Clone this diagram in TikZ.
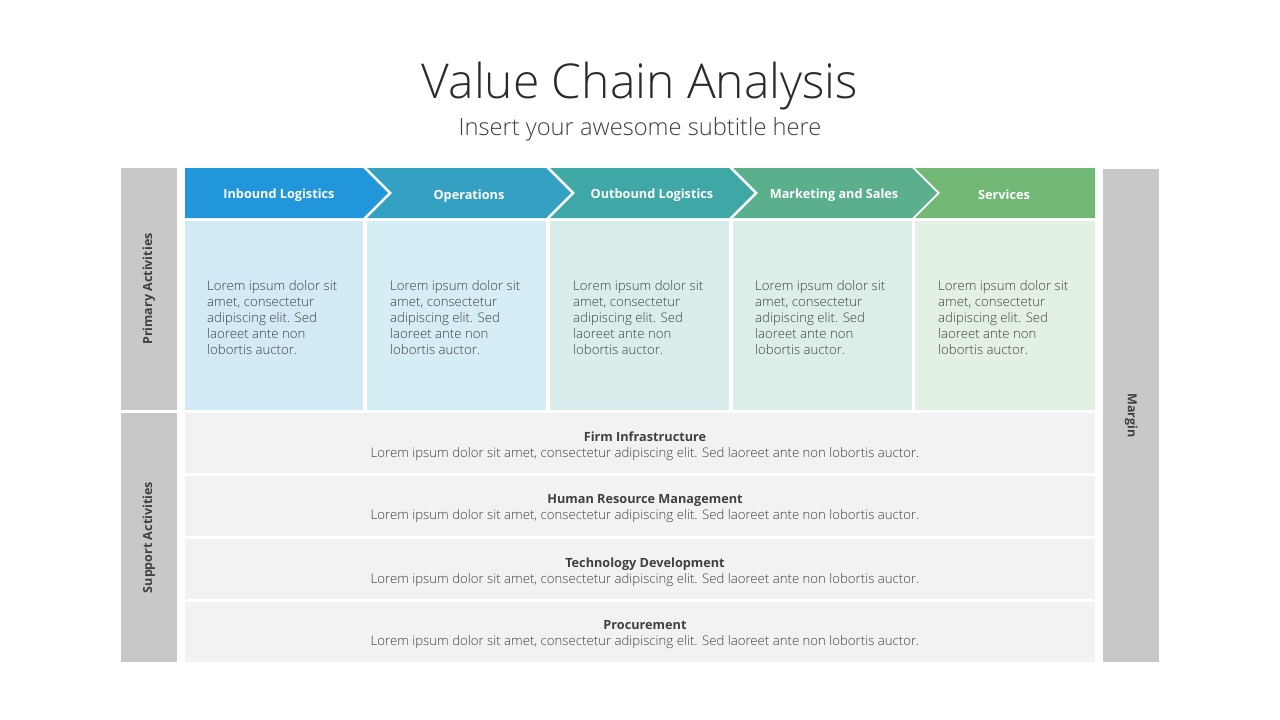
\documentclass[tikz,border=0pt]{standalone}
\usepackage{fontspec}
\setmainfont{Open Sans Light}
\newfontfamily\sbfont{Open Sans}
\definecolor{hdra}{HTML}{2196DA}
\definecolor{hdrb}{HTML}{34A0C2}
\definecolor{hdrc}{HTML}{3FA7A6}
\definecolor{hdrd}{HTML}{5AAF8D}
\definecolor{hdre}{HTML}{70B873}
\definecolor{bdya}{HTML}{D2E9F6}
\definecolor{bdyb}{HTML}{D5EDF4}
\definecolor{bdyc}{HTML}{D9EEEC}
\definecolor{bdyd}{HTML}{DCEEE5}
\definecolor{bdye}{HTML}{E2F1E2}
\definecolor{barg}{HTML}{C8C8C8}
\definecolor{rowg}{HTML}{F2F2F2}
\definecolor{txtd}{HTML}{404040}
\definecolor{ttl}{HTML}{2B2B2B}
\tikzset{
  graybar/.style={fill=barg, inner sep=0pt, minimum width=56pt},
  sidelabel/.style={font=\fontsize{12.5}{14}\selectfont\sbfont\bfseries, text=txtd},
  hdrtext/.style={font=\fontsize{12.7}{15}\selectfont\sbfont\bfseries, text=white},
  colbox/.style={inner sep=0pt, minimum width=#1, minimum height=189pt, anchor=north west},
  bodytext/.style={font=\fontsize{13.2}{16}\selectfont, text=txtd, align=left, anchor=west, inner sep=0pt},
  supbox/.style={fill=rowg, inner sep=0pt, minimum width=910pt, minimum height=60pt},
  suptext/.style={align=center, inner sep=0pt, font=\fontsize{13.2}{16}\selectfont, text=txtd, yshift=-3pt},
}
\newcommand{\lorembody}{Lorem ipsum dolor sit\\amet, consectetur\\adipiscing elit. Sed\\laoreet ante non\\lobortis auctor.}
\newcommand{\loremline}{Lorem ipsum dolor sit amet, consectetur adipiscing elit. Sed laoreet ante non lobortis auctor.}
\newcommand{\suptitle}[1]{{\fontsize{12.7}{16}\selectfont\sbfont\bfseries #1}}
\begin{document}
\begin{tikzpicture}[x=1pt,y=-1pt]
\useasboundingbox[fill=white] (0,0) rectangle (1280,720);
% titles
\node[font=\fontsize{48}{50}\selectfont, text=ttl] (title) at (640,86) {Value Chain Analysis};
\node[font=\fontsize{23.7}{26}\selectfont, text=txtd] (subtitle) at (640,129) {Insert your awesome subtitle here};
% side bars
\node[graybar, minimum height=242pt] (pbar) at (149,289) {};
\node[graybar, minimum height=249pt] (sbar) at (149,537.5) {};
\node[graybar, minimum width=56pt, minimum height=493pt] (mbar) at (1131,415.5) {};
\node[sidelabel, rotate=90] (plab) at (pbar.center) {Primary Activities};
\node[sidelabel, rotate=90] (slab) at (sbar.center) {Support Activities};
\node[sidelabel, rotate=-90] (mlab) at (mbar.center) {Margin};
% chevrons
\fill[hdra] (185,168) -- (363,168) -- (388,193) -- (363,218) -- (185,218) -- cycle;
\fill[hdrb] (367,168) -- (546,168) -- (571,193) -- (546,218) -- (367,218) -- (392,193) -- cycle;
\fill[hdrc] (550,168) -- (729,168) -- (754,193) -- (729,218) -- (550,218) -- (575,193) -- cycle;
\fill[hdrd] (733,168) -- (912,168) -- (937,193) -- (912,218) -- (733,218) -- (758,193) -- cycle;
\fill[hdre] (915,168) -- (1095,168) -- (1095,218) -- (915,218) -- (940,193) -- cycle;
\node[hdrtext] (ha) at (279,195) {Inbound Logistics};
\node[hdrtext] (hb) at (469,196) {Operations};
\node[hdrtext] (hc) at (652,195) {Outbound Logistics};
\node[hdrtext] (hd) at (834,195) {Marketing and Sales};
\node[hdrtext] (he) at (1004,195) {Services};
% body columns
\node[colbox=178pt, fill=bdya] (ca) at (185,221) {};
\node[colbox=179pt, fill=bdyb] (cb) at (367,221) {};
\node[colbox=179pt, fill=bdyc] (cc) at (550,221) {};
\node[colbox=179pt, fill=bdyd] (cd) at (733,221) {};
\node[colbox=180pt, fill=bdye] (ce) at (915,221) {};
\node[bodytext] (ta) at (207,318) {\lorembody};
\node[bodytext] (tb) at (390,318) {\lorembody};
\node[bodytext] (tc) at (573,318) {\lorembody};
\node[bodytext] (td) at (755,318) {\lorembody};
\node[bodytext] (te) at (938,318) {\lorembody};
% support rows
\node[supbox] (ra) at (640,443) {};
\node[supbox] (rb) at (640,506) {};
\node[supbox] (rc) at (640,569) {};
\node[supbox] (rd) at (640,632) {};
\node[suptext] (la) at (645,443) {\suptitle{Firm Infrastructure}\\\loremline};
\node[suptext] (lb) at (645,506) {\suptitle{Human Resource Management}\\\loremline};
\node[suptext] (lc) at (645,569) {\suptitle{Technology Development}\\\loremline};
\node[suptext] (ld) at (645,632) {\suptitle{Procurement}\\\loremline};
\end{tikzpicture}
\end{document}
